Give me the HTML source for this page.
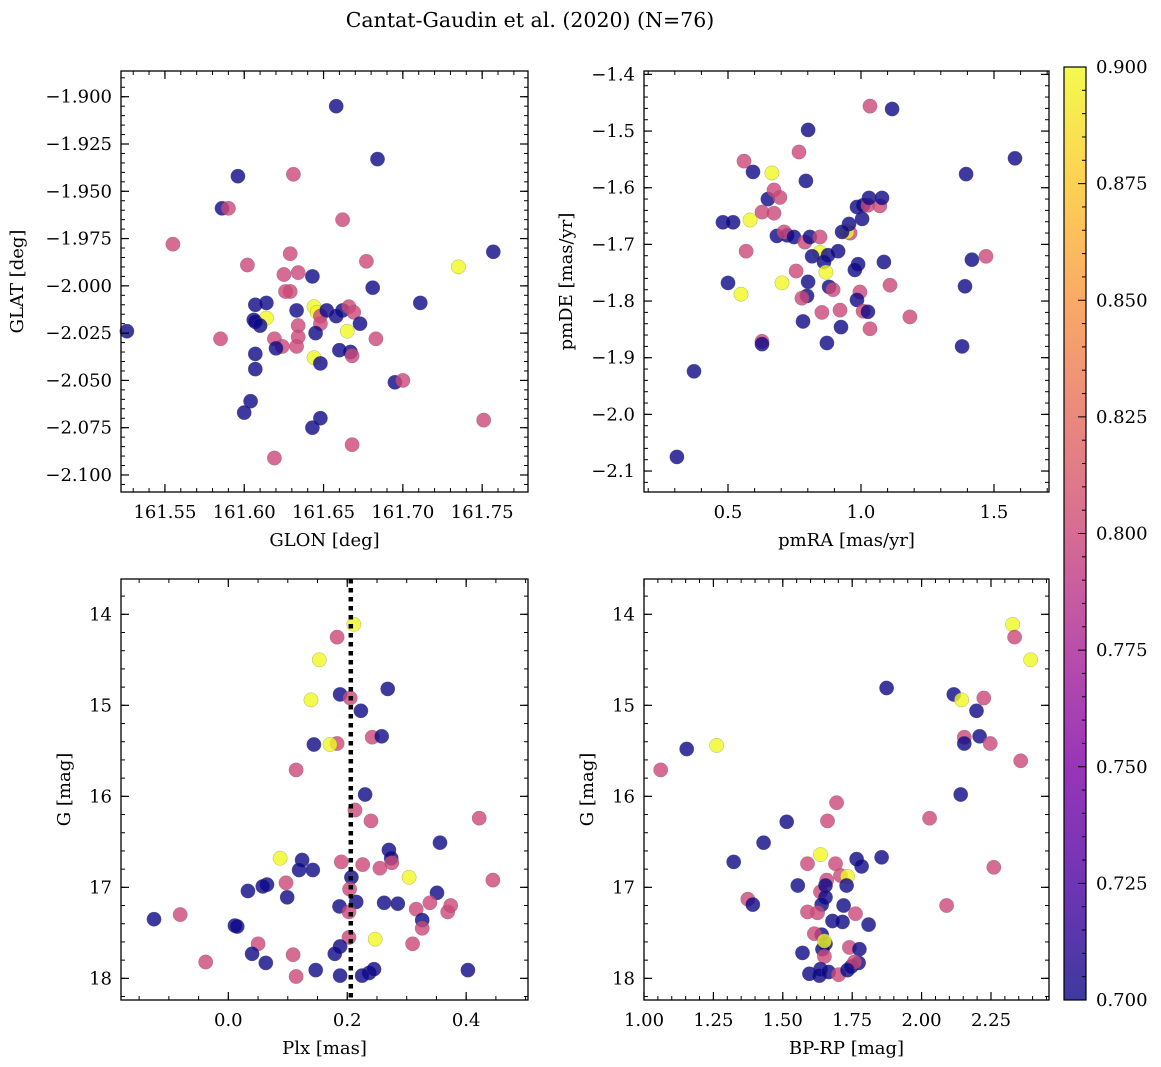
<!DOCTYPE html>
<html><head><meta charset="utf-8"><style>
html,body{margin:0;padding:0;background:#fff;}
svg{display:block;font-family:"DejaVu Serif","Liberation Serif",serif;}
</style></head><body>
<svg id="fig" width="1161" height="1067" viewBox="0 0 1161 1067">
<defs>
<linearGradient id="plasma" x1="0" y1="1" x2="0" y2="0">
<stop offset="0" stop-color="#0d0887"/><stop offset="0.125" stop-color="#4c02a1"/><stop offset="0.25" stop-color="#7e03a8"/><stop offset="0.375" stop-color="#a82296"/><stop offset="0.5" stop-color="#cc4778"/><stop offset="0.625" stop-color="#e56b5d"/><stop offset="0.75" stop-color="#f89540"/><stop offset="0.875" stop-color="#fdc527"/><stop offset="1" stop-color="#f0f921"/>
</linearGradient>
</defs>
<text x="530" y="27" text-anchor="middle" font-size="20.5">Cantat-Gaudin et al. (2020) (N=76)</text>
</svg>
<script>
// ---- Panel 1: GLON vs GLAT ----
const glon1 = [161.658,161.684,161.596,161.631,161.586,161.590,161.662,161.555,161.602,161.629,161.677,161.757,161.735,161.625,161.634,161.643,161.629,161.626,161.681,161.711,161.607,161.614,161.606,161.614,161.633,161.644,161.646,161.648,161.652,161.662,161.666,161.669,161.607,161.610,161.634,161.648,161.658,161.673,161.665,161.645,161.634,161.633,161.619,161.624,161.620,161.607,161.667,161.660,161.668,161.683,161.644,161.648,161.585,161.526,161.607,161.695,161.700,161.604,161.600,161.648,161.643,161.668,161.619,161.751];
const glat1 = [-1.905,-1.933,-1.942,-1.941,-1.959,-1.959,-1.965,-1.978,-1.989,-1.983,-1.987,-1.982,-1.990,-1.994,-1.993,-1.995,-2.003,-2.003,-2.001,-2.009,-2.010,-2.009,-2.018,-2.017,-2.013,-2.011,-2.014,-2.016,-2.013,-2.013,-2.011,-2.014,-2.019,-2.021,-2.021,-2.020,-2.016,-2.020,-2.024,-2.025,-2.027,-2.032,-2.028,-2.032,-2.033,-2.036,-2.035,-2.034,-2.037,-2.028,-2.038,-2.041,-2.028,-2.024,-2.044,-2.051,-2.050,-2.061,-2.067,-2.070,-2.075,-2.084,-2.091,-2.071];
const prob1 = [0.7,0.7,0.7,0.8,0.7,0.8,0.8,0.8,0.8,0.8,0.8,0.7,0.9,0.8,0.8,0.7,0.8,0.8,0.7,0.7,0.7,0.7,0.7,0.9,0.7,0.9,0.9,0.8,0.7,0.7,0.8,0.8,0.7,0.7,0.8,0.8,0.7,0.7,0.9,0.7,0.8,0.8,0.8,0.8,0.7,0.7,0.7,0.7,0.8,0.8,0.9,0.7,0.8,0.7,0.7,0.7,0.8,0.7,0.7,0.7,0.7,0.8,0.8,0.8];
// ---- Panel 2: pmRA vs pmDE ----
const pmra2 = [1.034,1.117,0.801,1.579,0.560,0.767,1.395,0.594,0.665,0.793,0.650,0.673,0.695,0.583,0.481,0.519,0.628,0.673,0.568,0.684,0.722,0.711,0.748,0.789,0.808,0.846,0.985,1.008,1.026,1.071,0.959,0.947,0.955,0.929,1.004,1.030,1.079,0.914,0.846,0.816,0.876,0.989,0.861,0.756,0.868,0.977,0.801,0.880,0.895,0.996,1.109,1.086,0.500,0.549,0.703,0.797,0.778,0.985,1.008,0.853,0.921,1.026,1.184,1.470,1.417,1.391,0.925,1.034,0.782,0.628,0.628,0.872,1.380,0.372,0.308];
const pmde2 = [-1.456,-1.461,-1.498,-1.548,-1.553,-1.537,-1.576,-1.572,-1.574,-1.588,-1.620,-1.604,-1.617,-1.657,-1.661,-1.661,-1.643,-1.645,-1.712,-1.685,-1.684,-1.678,-1.687,-1.696,-1.687,-1.687,-1.634,-1.631,-1.631,-1.632,-1.680,-1.678,-1.664,-1.678,-1.655,-1.618,-1.618,-1.712,-1.714,-1.721,-1.719,-1.735,-1.731,-1.747,-1.749,-1.745,-1.766,-1.775,-1.780,-1.784,-1.772,-1.731,-1.768,-1.788,-1.768,-1.791,-1.795,-1.798,-1.818,-1.820,-1.816,-1.819,-1.828,-1.721,-1.727,-1.774,-1.846,-1.849,-1.836,-1.871,-1.876,-1.874,-1.880,-1.924,-2.075];
const prob2 = [0.8,0.7,0.7,0.7,0.8,0.8,0.7,0.7,0.9,0.7,0.7,0.8,0.8,0.9,0.7,0.7,0.8,0.8,0.8,0.7,0.7,0.8,0.7,0.8,0.7,0.8,0.7,0.7,0.8,0.8,0.8,0.9,0.7,0.7,0.7,0.7,0.7,0.7,0.9,0.7,0.7,0.7,0.7,0.8,0.9,0.7,0.7,0.7,0.8,0.8,0.8,0.7,0.7,0.9,0.9,0.7,0.8,0.7,0.8,0.8,0.8,0.7,0.8,0.8,0.7,0.7,0.7,0.8,0.7,0.8,0.7,0.7,0.7,0.7,0.7];
// ---- Panel 3: Plx vs G ----
const plx3 = [0.211,0.183,0.153,0.139,0.188,0.268,0.205,0.223,0.144,0.183,0.171,0.242,0.258,0.114,0.230,0.213,0.240,0.356,0.422,0.270,0.274,0.087,0.124,0.119,0.142,0.190,0.226,0.255,0.275,0.304,0.207,0.097,0.445,0.065,0.058,0.033,0.204,0.215,0.262,0.187,0.099,0.285,0.316,0.351,0.339,0.369,0.374,0.326,0.203,-0.081,0.326,-0.125,0.011,0.015,0.247,0.203,0.310,0.050,0.040,0.063,0.109,0.188,-0.038,0.179,0.147,0.114,0.188,0.237,0.245,0.225,0.403];
const gmag3 = [14.11,14.25,14.50,14.94,14.88,14.82,14.92,15.06,15.43,15.42,15.43,15.35,15.34,15.71,15.98,16.15,16.27,16.51,16.24,16.59,16.68,16.68,16.70,16.81,16.81,16.72,16.75,16.79,16.73,16.89,16.89,16.95,16.92,16.97,16.99,17.04,17.02,17.16,17.17,17.21,17.11,17.18,17.24,17.06,17.17,17.27,17.20,17.36,17.27,17.30,17.45,17.35,17.42,17.43,17.57,17.55,17.62,17.62,17.73,17.83,17.74,17.65,17.82,17.73,17.91,17.98,17.97,17.94,17.90,17.97,17.91];
const prob3 = [0.9,0.8,0.9,0.9,0.7,0.7,0.8,0.7,0.7,0.8,0.9,0.8,0.7,0.8,0.7,0.8,0.8,0.7,0.8,0.7,0.7,0.9,0.7,0.7,0.7,0.8,0.8,0.8,0.8,0.9,0.7,0.8,0.8,0.7,0.7,0.7,0.8,0.7,0.7,0.7,0.7,0.7,0.8,0.7,0.8,0.8,0.8,0.7,0.8,0.8,0.8,0.7,0.7,0.7,0.9,0.8,0.8,0.8,0.7,0.7,0.8,0.7,0.8,0.7,0.7,0.8,0.7,0.7,0.7,0.7,0.7];
const plxLine = 0.206;
// ---- Panel 4: BP-RP vs G ----
const bprp4 = [2.328,2.335,2.393,1.874,2.116,2.224,2.144,2.198,2.154,2.209,2.154,2.247,2.357,1.262,1.154,1.060,2.141,1.694,1.661,2.029,1.514,1.431,1.856,1.636,1.323,1.589,1.766,1.784,1.690,1.708,1.733,2.260,1.554,1.658,1.636,1.654,1.730,1.654,1.374,1.392,2.090,1.640,1.719,1.589,1.625,1.762,1.679,1.715,1.809,1.654,1.640,1.614,1.740,1.776,1.643,1.650,1.650,1.571,1.747,1.773,1.758,1.596,1.636,1.632,1.665,1.701,1.733];
const gmag4 = [14.11,14.25,14.50,14.81,14.88,14.92,14.94,15.06,15.35,15.34,15.42,15.42,15.61,15.44,15.48,15.71,15.98,16.07,16.27,16.24,16.28,16.51,16.67,16.64,16.72,16.74,16.69,16.77,16.74,16.87,16.88,16.78,16.98,16.92,17.05,16.98,16.98,17.11,17.13,17.19,17.20,17.19,17.20,17.27,17.28,17.29,17.37,17.38,17.41,17.62,17.52,17.51,17.66,17.68,17.68,17.59,17.76,17.72,17.87,17.83,17.82,17.95,17.90,17.97,17.93,17.96,17.91];
const prob4 = [0.9,0.8,0.9,0.7,0.7,0.8,0.9,0.7,0.8,0.7,0.7,0.8,0.8,0.9,0.7,0.8,0.7,0.8,0.8,0.8,0.7,0.7,0.7,0.9,0.7,0.8,0.7,0.7,0.8,0.8,0.9,0.8,0.7,0.8,0.8,0.7,0.7,0.7,0.8,0.7,0.8,0.7,0.7,0.8,0.8,0.8,0.7,0.7,0.7,0.7,0.7,0.8,0.8,0.7,0.7,0.9,0.8,0.7,0.7,0.7,0.8,0.7,0.7,0.7,0.7,0.8,0.7];
// colorbar
const cbTicks = ["0.700","0.725","0.750","0.775","0.800","0.825","0.850","0.875","0.900"];

const NS="http://www.w3.org/2000/svg";
const svg=document.getElementById('fig');
const FS=18;
function mk(tag,attrs,parent){const e=document.createElementNS(NS,tag);for(const k in attrs)e.setAttribute(k,attrs[k]);(parent||svg).appendChild(e);return e;}
const stops=[[0,[13,8,135]],[0.125,[76,2,161]],[0.25,[126,3,168]],[0.375,[168,34,150]],[0.5,[204,71,120]],[0.625,[229,107,93]],[0.75,[248,149,64]],[0.875,[253,197,39]],[1,[240,249,33]]];
function plasma(t){t=Math.max(0,Math.min(1,t));for(let i=1;i<stops.length;i++){if(t<=stops[i][0]){const a=stops[i-1],b=stops[i];const f=(t-a[0])/(b[0]-a[0]);const c=a[1].map((v,j)=>Math.round(v+(b[1][j]-v)*f));return `rgb(${c.join(',')})`;}}return 'rgb(240,249,33)';}
function lin(d0,d1,r0,r1){return v=>r0+(v-d0)*(r1-r0)/(d1-d0);}
function fmt(v,dec){const s=Math.abs(v).toFixed(dec);return (v<-1e-9?'\u2212':'')+s;}

function panel(cfg){
  const g=mk('g',{});
  
  
  const {L,T,R,B}=cfg;
  const sx=lin(cfg.xd[0],cfg.xd[1],L,R), sy=lin(cfg.yd[0],cfg.yd[1],B,T);
  const pg=mk('g',{},g);
  
  
  cfg.xs.forEach((xv,i)=>{
    const c=mk('circle',{cx:sx(xv).toFixed(1),cy:sy(cfg.ys[i]).toFixed(1),r:7.2,fill:plasma((cfg.cs[i]-0.7)/0.2),'fill-opacity':0.8,stroke:'#666','stroke-width':0.4,'stroke-opacity':0.6},pg);
    
    
  });
  if(cfg.vline!==undefined){
    const l=mk('line',{x1:sx(cfg.vline),x2:sx(cfg.vline),y1:T,y2:B,stroke:'#000','stroke-width':4.5,'stroke-dasharray':'4.5 4.5'},g);
    
    
  }
  const fr=mk('rect',{x:L,y:T,width:R-L,height:B-T,fill:'none',stroke:'#000','stroke-width':1.3},g);
  
  
  const eps=1e-9;
  function ticks(d0,d1,step){const a=[];const lo=Math.min(d0,d1),hi=Math.max(d0,d1);for(let v=Math.ceil(lo/step-eps)*step;v<=hi+eps;v+=step)a.push(v);return a;}
  ticks(cfg.xd[0],cfg.xd[1],cfg.xminor).forEach(v=>{const x=sx(v);mk('line',{x1:x,x2:x,y1:B,y2:B-4,stroke:'#000','stroke-width':1},g);mk('line',{x1:x,x2:x,y1:T,y2:T+4,stroke:'#000','stroke-width':1},g);});
  ticks(cfg.yd[0],cfg.yd[1],cfg.yminor).forEach(v=>{const y=sy(v);mk('line',{x1:L,x2:L+4,y1:y,y2:y,stroke:'#000','stroke-width':1},g);mk('line',{x1:R,x2:R-4,y1:y,y2:y,stroke:'#000','stroke-width':1},g);});
  cfg.xmaj.forEach(v=>{const x=sx(v);mk('line',{x1:x,x2:x,y1:B,y2:B-8,stroke:'#000','stroke-width':1.2},g);mk('line',{x1:x,x2:x,y1:T,y2:T+8,stroke:'#000','stroke-width':1.2},g);
    const t=mk('text',{x:x,y:B+26,'text-anchor':'middle','font-size':FS},g);t.textContent=fmt(v,cfg.xdec);
    
    });
  cfg.ymaj.forEach(v=>{const y=sy(v);mk('line',{x1:L,x2:L+8,y1:y,y2:y,stroke:'#000','stroke-width':1.2},g);mk('line',{x1:R,x2:R-8,y1:y,y2:y,stroke:'#000','stroke-width':1.2},g);
    const t=mk('text',{x:L-9,y:y+6,'text-anchor':'end','font-size':FS},g);t.textContent=fmt(v,cfg.ydec);
    
    });
  const xl=mk('text',{x:(L+R)/2,y:B+54,'text-anchor':'middle','font-size':FS},g);xl.textContent=cfg.xlab;
  
  
  const yl=mk('text',{x:0,y:0,'text-anchor':'middle','font-size':FS,transform:`translate(${cfg.ylx},${(T+B)/2}) rotate(-90)`},g);yl.textContent=cfg.ylab;
  
  
}
function rng(a,b,s){const r=[];for(let v=a;v<=b+1e-9;v+=s)r.push(+v.toFixed(6));return r;}

panel({name:'glon-glat-panel',L:121,T:71,R:528,B:492,xd:[161.5223,161.7789],yd:[-2.109,-1.8864],xs:glon1,ys:glat1,cs:prob1,
  xmaj:rng(161.55,161.75,0.05),ymaj:rng(-2.1,-1.9,0.025),xminor:0.01,yminor:0.005,xdec:2,ydec:3,xlab:'GLON [deg]',ylab:'GLAT [deg]',ylx:23});
panel({name:'pm-panel',L:644,T:71,R:1049,B:492,xd:[0.1842,1.7068],yd:[-2.137,-1.394],xs:pmra2,ys:pmde2,cs:prob2,
  xmaj:[0.5,1.0,1.5],ymaj:rng(-2.1,-1.4,0.1),xminor:0.1,yminor:0.02,xdec:1,ydec:1,xlab:'pmRA [mas/yr]',ylab:'pmDE [mas/yr]',ylx:572});
panel({name:'plx-g-panel',L:121,T:579,R:528,B:1000,xd:[-0.1805,0.504],yd:[18.238,13.612],xs:plx3,ys:gmag3,cs:prob3,vline:plxLine,
  xmaj:[0,0.2,0.4],ymaj:[14,15,16,17,18],xminor:0.05,yminor:0.2,xdec:1,ydec:0,xlab:'Plx [mas]',ylab:'G [mag]',ylx:70});
panel({name:'cmd-panel',L:644,T:579,R:1049,B:1000,xd:[1.0,2.459],yd:[18.238,13.612],xs:bprp4,ys:gmag4,cs:prob4,
  xmaj:[1.0,1.25,1.5,1.75,2.0,2.25],ymaj:[14,15,16,17,18],xminor:0.05,yminor:0.2,xdec:2,ydec:0,xlab:'BP-RP [mag]',ylab:'G [mag]',ylx:593});

const cb=mk('g',{});


const cT=67,cB=1000,cL=1064,cR=1086;
mk('rect',{x:cL,y:cT,width:cR-cL,height:cB-cT,fill:'url(#plasma)','fill-opacity':0.8},cb);
mk('rect',{x:cL,y:cT,width:cR-cL,height:cB-cT,fill:'none',stroke:'#000','stroke-width':1.2},cb);
const cy=lin(0.7,0.9,cB,cT);
for(let k=0;k<=40;k++){const v=0.7+k*0.005;const y=cy(v);const maj=(k%5===0);mk('line',{x1:cR,x2:cR-(maj?8:4),y1:y,y2:y,stroke:'#000','stroke-width':1},cb);}
cbTicks.forEach(s=>{const y=cy(parseFloat(s));const t=mk('text',{x:cR+10,y:y+6,'font-size':FS},cb);t.textContent=s;
  
  });
</script>
</body></html>
